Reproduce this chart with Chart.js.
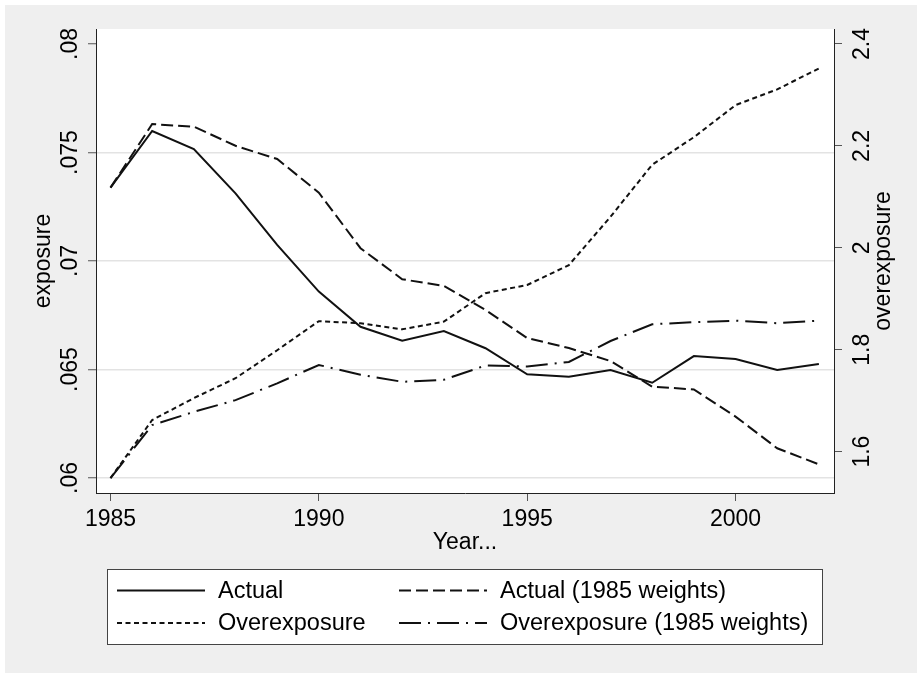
<!DOCTYPE html>
<html>
<head>
<meta charset="utf-8">
<title>Exposure and overexposure</title>
<script src="https://cdn.jsdelivr.net/npm/chart.js@4.4.0/dist/chart.umd.min.js"></script>
<style>
  html, body { margin: 0; padding: 0; background: #fff; }
  #wrap { width: 917px; height: 673px; }
</style>
</head>
<body>
<div id="wrap"><canvas id="chart" width="917" height="673"></canvas></div>
<script>
const years = [1985, 1986, 1987, 1988, 1989, 1990, 1991, 1992, 1993,
               1994, 1995, 1996, 1997, 1998, 1999, 2000, 2001, 2002];

// left axis (exposure)
const actual = [0.07338, 0.07599, 0.07516, 0.07312, 0.07074, 0.06859, 0.06697, 0.06633, 0.06677,
                0.06598, 0.06478, 0.06467, 0.06498, 0.06439, 0.06562, 0.06548, 0.06498, 0.06525];
const actual85 = [0.07338, 0.07631, 0.07619, 0.07531, 0.07470, 0.07315, 0.07059, 0.06916, 0.06885,
                  0.06774, 0.06645, 0.06599, 0.06539, 0.06421, 0.06408, 0.06283, 0.06137, 0.06063];

// right axis (overexposure)
const overexposure = [1.548, 1.662, 1.705, 1.744, 1.799, 1.856, 1.852, 1.840, 1.855,
                      1.911, 1.927, 1.966, 2.061, 2.163, 2.217, 2.280, 2.311, 2.352];
const overexposure85 = [1.548, 1.652, 1.678, 1.701, 1.734, 1.770, 1.751, 1.737, 1.741,
                        1.769, 1.767, 1.776, 1.817, 1.850, 1.854, 1.857, 1.852, 1.857];

const seriesNames = ['Actual', 'Actual (1985 weights)', 'Overexposure', 'Overexposure (1985 weights)'];
const yearTicks = [1985, 1990, 1995, 2000];
const exposureTicks = [0.06, 0.065, 0.07, 0.075, 0.08];
const overexposureTicks = [1.6, 1.8, 2, 2.2, 2.4];

const FAMILY = '"Liberation Sans", Arial, Helvetica, sans-serif';
const font = { family: FAMILY, size: 23 };
const INK = '#000';

function pts(vals) {
    return years.map((yr, i) => ({ x: yr, y: vals[i] }));
}

function lineSet(label, vals, axis, dash) {
    return {
        label: label,
        data: pts(vals),
        yAxisID: axis,
        borderColor: '#111',
        borderWidth: 2,
        borderDash: dash,
        pointRadius: 0,
        tension: 0,
        fill: false
    };
}

// gray page, white plot region
const backdrop = {
    id: 'backdrop',
    beforeDraw(chart) {
        const { ctx, chartArea: a } = chart;
        ctx.save();
        ctx.fillStyle = '#fff';
        ctx.fillRect(0, 0, chart.width, chart.height);
        ctx.fillStyle = '#efefef';
        ctx.fillRect(5, 5, chart.width - 5, chart.height - 5);
        ctx.fillStyle = '#fff';
        ctx.fillRect(a.left, a.top, a.right - a.left, a.bottom - a.top);
        ctx.restore();
    }
};

// right axis title reads bottom-to-top like the left one
const rightTitle = {
    id: 'rightTitle',
    afterDraw(chart) {
        const { ctx, chartArea: a } = chart;
        ctx.save();
        ctx.translate(884, (a.top + a.bottom) / 2);
        ctx.rotate(-Math.PI / 2);
        ctx.font = `23px ${FAMILY}`;
        ctx.fillStyle = INK;
        ctx.textAlign = 'center';
        ctx.textBaseline = 'middle';
        ctx.fillText('overexposure', 0, 0);
        ctx.restore();
    }
};

// boxed two-column legend under the plot
const boxLegend = {
    id: 'boxLegend',
    afterDraw(chart) {
        const ctx = chart.ctx;
        ctx.save();
        ctx.fillStyle = '#fff';
        ctx.fillRect(107.5, 569.5, 715, 75);
        ctx.strokeStyle = '#444';
        ctx.lineWidth = 1;
        ctx.strokeRect(107.5, 569.5, 715, 75);

        const sampleX = [117, 399];
        const textX = [218, 500];
        const rowY = [590.5, 623];
        chart.data.datasets.forEach((ds, i) => {
            const col = i % 2;
            const row = Math.floor(i / 2);
            const y = rowY[row];
            ctx.strokeStyle = ds.borderColor;
            ctx.lineWidth = ds.borderWidth;
            ctx.setLineDash(ds.borderDash || []);
            ctx.beginPath();
            ctx.moveTo(sampleX[col], y);
            ctx.lineTo(sampleX[col] + 88, y);
            ctx.stroke();
            ctx.setLineDash([]);
            ctx.fillStyle = INK;
            ctx.font = `23.5px ${FAMILY}`;
            ctx.textAlign = 'left';
            ctx.textBaseline = 'middle';
            ctx.fillText(ds.label, textX[col], y + 1);
        });
        ctx.restore();
    }
};

function fmtExposure(v) {
    return v.toFixed(3).replace(/0+$/, '').replace(/^0/, '');
}

new Chart(document.getElementById('chart'), {
    type: 'line',
    data: {
        datasets: [
            lineSet(seriesNames[0], actual, 'y', []),
            lineSet(seriesNames[1], actual85, 'y', [12, 5]),
            lineSet(seriesNames[2], overexposure, 'y1', [5, 3.5]),
            lineSet(seriesNames[3], overexposure85, 'y1', [22, 7, 2, 7])
        ]
    },
    options: {
        responsive: false,
        animation: false,
        layout: { padding: { top: 29, left: 0, right: 0, bottom: 110 } },
        plugins: {
            legend: { display: false },
            tooltip: { enabled: false }
        },
        scales: {
            x: {
                type: 'linear',
                min: 1984.652,
                max: 2002.363,
                afterBuildTicks: s => { s.ticks = yearTicks.map(v => ({ value: v })); },
                afterFit: s => { s.height = 70; },
                grid: { drawOnChartArea: false, tickLength: 8, tickColor: '#555', tickWidth: 1 },
                border: { display: true, color: '#222', width: 1 },
                ticks: {
                    font: font, color: INK, padding: 5,
                    maxRotation: 0, autoSkip: false,
                    callback: v => String(v)
                },
                title: { display: true, text: 'Year...', font: font, color: INK, padding: { top: 0, bottom: 7 } }
            },
            y: {
                position: 'left',
                min: 0.059309,
                max: 0.080691,
                afterBuildTicks: s => { s.ticks = exposureTicks.map(v => ({ value: v })); },
                afterFit: s => { s.width = 96; },
                grid: {
                    color: c => (c.tick && c.tick.value > 0.0799) ? 'rgba(0,0,0,0)' : '#e3e3e3',
                    lineWidth: 1.5,
                    tickLength: 8, tickColor: '#555', tickWidth: 1
                },
                border: { display: true, color: '#222', width: 1 },
                ticks: {
                    font: font, color: INK,
                    minRotation: 90, maxRotation: 90,
                    crossAlign: 'center', padding: -5,
                    callback: v => fmtExposure(v)
                },
                title: { display: true, text: 'exposure', font: font, color: INK, padding: { top: 30, bottom: 0 } }
            },
            y1: {
                position: 'right',
                min: 1.51874,
                max: 2.42944,
                afterBuildTicks: s => { s.ticks = overexposureTicks.map(v => ({ value: v })); },
                afterFit: s => { s.width = 83; },
                grid: { drawOnChartArea: false, tickLength: 8, tickColor: '#555', tickWidth: 1 },
                border: { display: true, color: '#222', width: 1 },
                ticks: {
                    font: font, color: INK,
                    minRotation: 90, maxRotation: 90,
                    crossAlign: 'center', padding: 5,
                    callback: v => String(Math.round(v * 10) / 10)
                }
            }
        }
    },
    plugins: [backdrop, rightTitle, boxLegend]
});
</script>
</body>
</html>
